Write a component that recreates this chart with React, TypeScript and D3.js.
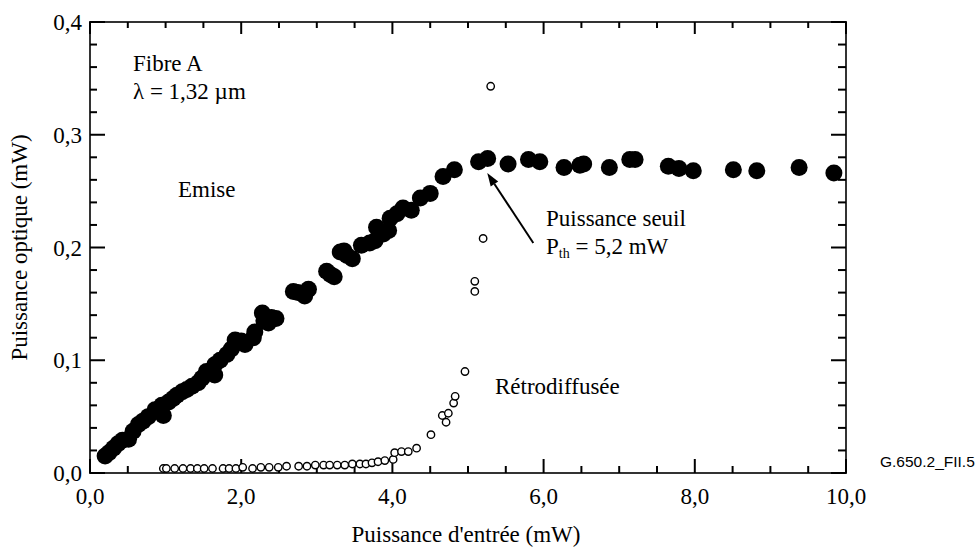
import React from "react";
import * as d3 from "d3";

// Emitted power (filled circles)
const emitX = [0.20, 0.25, 0.31, 0.37, 0.43, 0.51, 0.57, 0.64, 0.70, 0.77, 0.86, 0.95, 0.97, 1.04, 1.10, 1.15, 1.22, 1.28, 1.35, 1.43, 1.48, 1.54, 1.65, 1.65, 1.72, 1.81, 1.87, 1.92, 2.00, 2.05, 2.16, 2.18, 2.28, 2.30, 2.36, 2.40, 2.46, 2.69, 2.75, 2.84, 2.89, 3.13, 3.18, 3.23, 3.31, 3.36, 3.40, 3.47, 3.59, 3.70, 3.77, 3.79, 3.88, 3.95, 3.97, 4.06, 4.14, 4.25, 4.37, 4.50, 4.67, 4.82, 5.14, 5.26, 5.53, 5.80, 5.95, 6.27, 6.48, 6.53, 6.87, 7.14, 7.21, 7.65, 7.79, 7.98, 8.51, 8.82, 9.38, 9.84];
const emitY = [0.015, 0.018, 0.022, 0.026, 0.029, 0.030, 0.037, 0.043, 0.046, 0.050, 0.056, 0.060, 0.051, 0.063, 0.066, 0.069, 0.072, 0.074, 0.077, 0.080, 0.084, 0.090, 0.096, 0.087, 0.100, 0.105, 0.110, 0.118, 0.117, 0.114, 0.120, 0.125, 0.142, 0.135, 0.133, 0.138, 0.137, 0.161, 0.160, 0.157, 0.163, 0.179, 0.176, 0.174, 0.196, 0.197, 0.193, 0.190, 0.202, 0.204, 0.206, 0.218, 0.212, 0.215, 0.226, 0.230, 0.235, 0.233, 0.244, 0.248, 0.263, 0.269, 0.276, 0.279, 0.274, 0.278, 0.276, 0.271, 0.273, 0.274, 0.271, 0.278, 0.278, 0.272, 0.270, 0.268, 0.269, 0.268, 0.271, 0.266];

// Backscattered power (open circles)
const retroX = [0.97, 1.01, 1.12, 1.23, 1.33, 1.42, 1.51, 1.62, 1.76, 1.84, 1.93, 2.02, 2.15, 2.26, 2.37, 2.49, 2.60, 2.76, 2.87, 2.98, 3.09, 3.17, 3.27, 3.37, 3.47, 3.57, 3.65, 3.73, 3.81, 3.90, 4.01, 4.03, 4.12, 4.21, 4.32, 4.51, 4.66, 4.71, 4.74, 4.81, 4.83, 4.96, 5.09, 5.09, 5.20, 5.30];
const retroY = [0.004, 0.004, 0.004, 0.004, 0.004, 0.004, 0.004, 0.004, 0.004, 0.004, 0.004, 0.005, 0.004, 0.005, 0.005, 0.005, 0.006, 0.006, 0.006, 0.007, 0.007, 0.007, 0.007, 0.007, 0.008, 0.008, 0.008, 0.009, 0.010, 0.011, 0.012, 0.018, 0.019, 0.019, 0.022, 0.034, 0.051, 0.045, 0.053, 0.062, 0.068, 0.090, 0.170, 0.161, 0.208, 0.343];

const xMajor = [0, 2, 4, 6, 8, 10];
const xMajorLabels = ["0,0", "2,0", "4,0", "6,0", "8,0", "10,0"];
const yMajor = [0, 0.1, 0.2, 0.3, 0.4];
const yMajorLabels = ["0,0", "0,1", "0,2", "0,3", "0,4"];

const xTitle = "Puissance d'entrée (mW)";
const yTitle = "Puissance optique (mW)";
const figCode = "G.650.2_FII.5";

// arrow annotation: tail -> head in data units
const arrowTail = [5.864, 0.204];
const arrowHead = [5.255, 0.266];

const W = 979, H = 553;
const L = 90, R = 846, T = 22, B = 473;
const FONT = "Liberation Serif, Times New Roman, Times, serif";
const FS = 23;

export default function App() {
  const x = d3.scaleLinear().domain([0, 10]).range([L, R]);
  const y = d3.scaleLinear().domain([0, 0.4]).range([B, T]);

  const xMinor = d3.range(0, 10.001, 0.5).filter((v) => Math.abs(v / 2 - Math.round(v / 2)) > 1e-6);
  const yMinor = d3.range(0, 0.4001, 0.02).filter((v) => Math.abs(v / 0.1 - Math.round(v / 0.1)) > 1e-6);

  const hx = x(arrowHead[0]), hy = y(arrowHead[1]);
  const tx = x(arrowTail[0]), ty = y(arrowTail[1]);
  const ang = Math.atan2(hy - ty, hx - tx);
  const hl = 13, hw = 4.5;
  const bx = hx - hl * Math.cos(ang), by = hy - hl * Math.sin(ang);
  const p1 = [bx + hw * Math.sin(ang), by - hw * Math.cos(ang)];
  const p2 = [bx - hw * Math.sin(ang), by + hw * Math.cos(ang)];

  const tickStroke = { stroke: "#000", strokeWidth: 2 };
  const txt = { fontFamily: FONT, fontSize: FS, fill: "#000" } as React.CSSProperties;

  return (
    <svg width={W} height={H} style={{ position: "absolute", left: 0, top: 0, background: "#fff" }}>
      <rect x={0} y={0} width={W} height={H} fill="#fff" />
      <rect x={L} y={T} width={R - L} height={B - T} fill="none" stroke="#333" strokeWidth={2} />

      {xMajor.map((v) => (
        <g key={"xM" + v}>
          <line x1={x(v)} x2={x(v)} y1={B} y2={B - 14} {...tickStroke} />
          <line x1={x(v)} x2={x(v)} y1={T} y2={T + 12} {...tickStroke} />
        </g>
      ))}
      {xMinor.map((v) => (
        <g key={"xm" + v}>
          <line x1={x(v)} x2={x(v)} y1={B} y2={B - 7} {...tickStroke} />
          <line x1={x(v)} x2={x(v)} y1={T} y2={T + 6} {...tickStroke} />
        </g>
      ))}
      {yMajor.map((v) => (
        <g key={"yM" + v}>
          <line x1={L} x2={L + 15} y1={y(v)} y2={y(v)} {...tickStroke} />
          <line x1={R} x2={R - 15} y1={y(v)} y2={y(v)} {...tickStroke} />
        </g>
      ))}
      {yMinor.map((v) => (
        <g key={"ym" + v}>
          <line x1={L} x2={L + 7} y1={y(v)} y2={y(v)} {...tickStroke} />
          <line x1={R} x2={R - 8} y1={y(v)} y2={y(v)} {...tickStroke} />
        </g>
      ))}

      {xMajor.map((v, i) => (
        <text key={"xl" + v} x={x(v)} y={504} textAnchor="middle" style={txt}>
          {xMajorLabels[i]}
        </text>
      ))}
      {yMajor.map((v, i) => (
        <text key={"yl" + v} x={82} y={y(v) + 8} textAnchor="end" style={txt}>
          {yMajorLabels[i]}
        </text>
      ))}

      <text x={(L + R) / 2 - 2} y={542} textAnchor="middle" style={txt}>{xTitle}</text>
      <text transform={`translate(27, ${(T + B) / 2}) rotate(-90)`} textAnchor="middle" style={txt}>{yTitle}</text>

      {emitX.map((v, i) => (
        <circle key={"e" + i} cx={x(v)} cy={y(emitY[i])} r={8.5} fill="#000" />
      ))}
      {retroX.map((v, i) => (
        <circle key={"r" + i} cx={x(v)} cy={y(retroY[i])} r={3.7} fill="#fff" stroke="#000" strokeWidth={1.4} />
      ))}

      <text x={133} y={71} style={txt}>Fibre A</text>
      <text x={133} y={99} style={txt}>λ = 1,32 µm</text>
      <text x={178} y={197} style={txt}>Emise</text>
      <text x={495} y={394} style={txt}>Rétrodiffusée</text>
      <text x={546} y={226} style={txt}>Puissance seuil</text>
      <text x={546} y={254} style={txt}>
        P<tspan style={{ fontSize: 14, fill: "#000" }} dy={4}>th</tspan><tspan style={{ fill: "#000" }} dy={-4}> = 5,2 mW</tspan>
      </text>
      <line x1={tx} y1={ty} x2={bx} y2={by} stroke="#000" strokeWidth={2} />
      <polygon points={`${hx},${hy} ${p1[0]},${p1[1]} ${p2[0]},${p2[1]}`} fill="#000" />

      <text x={880} y={467} style={{ fontFamily: "Liberation Sans, Arial, sans-serif", fontSize: 15.5, fill: "#000" }}>{figCode}</text>
    </svg>
  );
}
